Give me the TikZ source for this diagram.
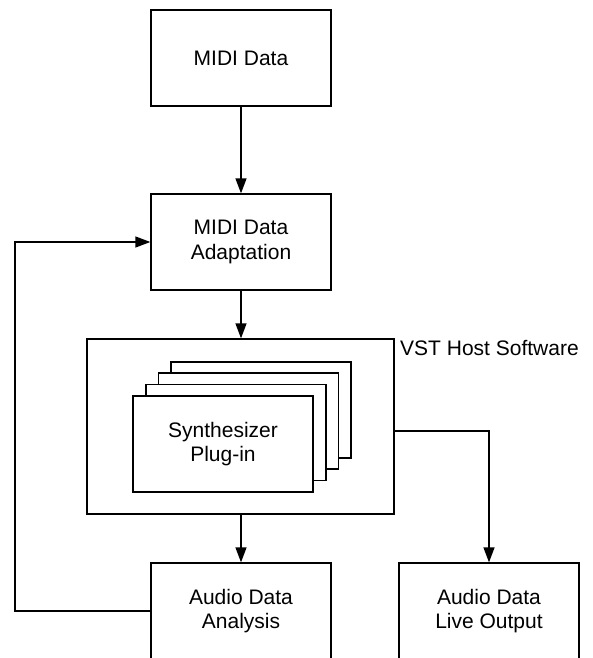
\documentclass[tikz,border=0pt]{standalone}
\usepackage{fontspec}
\setmainfont{Liberation Sans}
\usetikzlibrary{arrows.meta}
\begin{document}
\begin{tikzpicture}[x=1pt,y=-1pt,
  box/.style={draw,line width=1.3pt,fill=white,minimum width=180pt,minimum height=96pt,inner sep=0pt,align=center,font=\fontsize{21}{24.5}\selectfont},
  conn/.style={line width=1.3pt,-{Triangle[length=15pt,width=11pt]}},
  line/.style={line width=1.3pt}]
\useasboundingbox (0,0) rectangle (592,658);
\clip (0,0) rectangle (592,658);
\node[box] (midi) at (241,58) {MIDI Data};
\node[box] (adapt) at (241,242) {MIDI Data\\Adaptation};
\node[draw,line width=1.3pt,minimum width=307pt,minimum height=175pt,inner sep=0pt] (vst) at (240.5,426.5) {};
\node[anchor=base west,inner sep=0pt,font=\fontsize{21}{24.5}\selectfont] (vstlabel) at (400,355) {VST Host Software};
\node[box] (p4) at (261,410) {};
\node[box] (p3) at (248.5,421) {};
\node[box] (p2) at (236,432.5) {};
\node[box] (p1) at (223,444) {Synthesizer\\Plug-in};
\node[box] (analysis) at (241,611) {Audio Data\\Analysis};
\node[box] (live) at (489,611) {Audio Data\\Live Output};
\coordinate (fbl) at (15,611);
\coordinate (fbt) at (15,242);
\coordinate (rcorner) at (489,431);
\draw[conn] (midi) -- (adapt);
\draw[conn] (adapt) -- (adapt|-vst.north);
\draw[conn] (vst.south-|analysis) -- (analysis);
\draw[conn] (vst.east|-rcorner) -- (rcorner) -- (live);
\draw[conn] (analysis.west) -- (fbl) -- (fbt) -- (adapt.west);
\end{tikzpicture}
\end{document}
